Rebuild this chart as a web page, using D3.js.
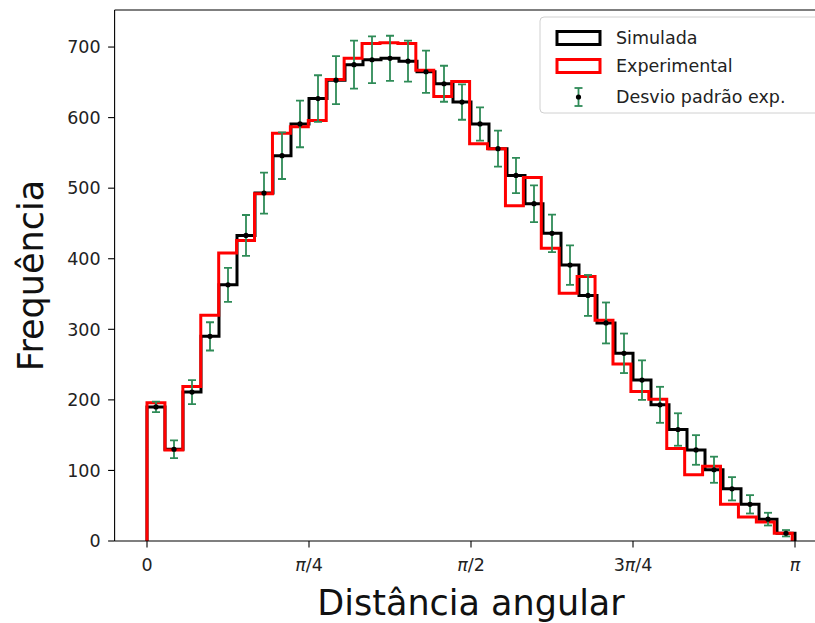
<!DOCTYPE html>
<html>
<head>
<meta charset="utf-8">
<script src="https://cdn.jsdelivr.net/npm/d3@7"></script>
<style>
  html, body { margin: 0; padding: 0; background: #fff; }
  svg { display: block; font-family: "DejaVu Sans", sans-serif; }
</style>
</head>
<body>
<svg id="chart" width="815" height="623"></svg>
<script>
// ---- data ----
const binCount = 36;
const simRange = [0, Math.PI];
const expRange = [0, 3.128];
const simValues = [190, 130, 211, 290, 363, 433, 493, 546, 591, 627, 653, 675, 682, 684, 680, 665, 648, 622, 591, 556, 518, 478, 436, 391, 348, 309, 266, 228, 193, 158, 129, 101, 74, 52, 31, 11];
const expValues = [196, 129, 219, 320, 408, 426, 492, 578, 587, 596, 654, 684, 705, 706, 705, 667, 630, 651, 563, 556, 475, 515, 415, 351, 375, 313, 251, 212, 201, 131, 94, 106, 52, 34, 27, 11];
const expErrors = [7.5, 12.5, 17, 20, 24, 29, 29, 33, 33, 33, 34, 34, 33, 32, 29, 30, 25.5, 25, 23.5, 25.5, 25, 26, 26.5, 28, 29, 29, 28, 28, 25.5, 23, 21, 18.5, 16.5, 13, 9, 4.5];
const yTicks = [0, 100, 200, 300, 400, 500, 600, 700];
const xTicks = [0, Math.PI / 4, Math.PI / 2, 3 * Math.PI / 4, Math.PI];
const xTickLabels = [["0"], ["", "π", "/4"], ["", "π", "/2"], ["3", "π", "/4"], ["", "π", ""]];
const legendLabels = ["Simulada", "Experimental", "Desvio padrão exp."];
const colSim = "#000000", colExp = "#ff0000", colErr = "#2e8b57";

// ---- layout ----
const svg = d3.select("#chart");
const pL = 114.6, pR = 827.4, pT = 10, pB = 541;
const x = d3.scaleLinear().domain([-0.05 * Math.PI, 1.05 * Math.PI]).range([pL, pR]);
const y = d3.scaleLinear().domain([0, 752.5]).range([pB, pT]);

function edges(range) {
  const w = (range[1] - range[0]) / binCount;
  return d3.range(binCount + 1).map(i => range[0] + i * w);
}
function stepPath(vals, range) {
  const e = edges(range);
  const pts = [[e[0], 0]];
  vals.forEach((v, i) => { pts.push([e[i], v]); pts.push([e[i + 1], v]); });
  pts.push([e[binCount], 0]);
  return d3.line().x(d => x(d[0])).y(d => y(d[1]))(pts);
}

svg.append("clipPath").attr("id", "clip").append("rect")
  .attr("x", pL).attr("y", pT).attr("width", pR - pL).attr("height", pB - pT);

const plot = svg.append("g").attr("clip-path", "url(#clip)");

plot.append("path").attr("d", stepPath(simValues, simRange))
  .attr("fill", "none").attr("stroke", colSim).attr("stroke-width", 3).attr("stroke-linejoin", "miter");
plot.append("path").attr("d", stepPath(expValues, expRange))
  .attr("fill", "none").attr("stroke", colExp).attr("stroke-width", 3).attr("stroke-linejoin", "miter");

// error bars at simulated bin centers
const se = edges(simRange);
const centers = simValues.map((v, i) => (se[i] + se[i + 1]) / 2);
const eb = plot.append("g");
simValues.forEach((v, i) => {
  const cx = x(centers[i]);
  const y1 = y(v - expErrors[i]), y2 = y(v + expErrors[i]);
  eb.append("line").attr("x1", cx).attr("x2", cx).attr("y1", y1).attr("y2", y2)
    .attr("stroke", colErr).attr("stroke-width", 1.8);
  [y1, y2].forEach(yy => eb.append("line").attr("x1", cx - 4).attr("x2", cx + 4).attr("y1", yy).attr("y2", yy)
    .attr("stroke", colErr).attr("stroke-width", 1.8));
  eb.append("circle").attr("cx", cx).attr("cy", y(v)).attr("r", 2.6).attr("fill", "#000");
});

// ---- axes ----
const axisG = svg.append("g");
axisG.append("line").attr("x1", pL).attr("x2", pL).attr("y1", pT).attr("y2", pB).attr("stroke", "#000").attr("stroke-width", 1.1);
axisG.append("line").attr("x1", pL).attr("x2", pR).attr("y1", pB).attr("y2", pB).attr("stroke", "#000").attr("stroke-width", 1.1);
axisG.append("line").attr("x1", pL).attr("x2", pR).attr("y1", pT).attr("y2", pT).attr("stroke", "#000").attr("stroke-width", 1.1);

const fsTick = 17.5;
yTicks.forEach(t => {
  axisG.append("line").attr("x1", pL - 6.5).attr("x2", pL).attr("y1", y(t)).attr("y2", y(t)).attr("stroke", "#000").attr("stroke-width", 1.1);
  axisG.append("text").attr("x", pL - 14).attr("y", y(t)).attr("dy", "0.36em")
    .attr("text-anchor", "end").attr("font-size", fsTick).attr("fill", "#222").text(t);
});
xTicks.forEach((t, i) => {
  axisG.append("line").attr("x1", x(t)).attr("x2", x(t)).attr("y1", pB).attr("y2", pB + 6.5).attr("stroke", "#000").attr("stroke-width", 1.1);
  const tx = axisG.append("text").attr("x", x(t)).attr("y", pB + 13).attr("dy", "0.95em")
    .attr("text-anchor", "middle").attr("font-size", fsTick).attr("fill", "#222");
  const parts = xTickLabels[i];
  tx.append("tspan").text(parts[0]);
  if (parts[1]) tx.append("tspan").attr("font-style", "italic").text(parts[1]);
  if (parts[2]) tx.append("tspan").text(parts[2]);
});

svg.append("text").attr("x", (pL + pR) / 2).attr("y", 615).attr("text-anchor", "middle")
  .attr("font-size", 35).attr("fill", "#111").text("Distância angular");
svg.append("text").attr("transform", `translate(43,${(pT + pB) / 2}) rotate(-90)`).attr("text-anchor", "middle")
  .attr("font-size", 35).attr("fill", "#111").text("Frequência");

// ---- legend ----
const lg = svg.append("g");
lg.append("rect").attr("x", 540).attr("y", 17).attr("width", 300).attr("height", 96).attr("rx", 4)
  .attr("fill", "#fff").attr("fill-opacity", 0.8).attr("stroke", "#d0d0d0").attr("stroke-width", 1);
const rowsY = [38, 66, 97];
lg.append("rect").attr("x", 557).attr("y", rowsY[0] - 6.5).attr("width", 43).attr("height", 13)
  .attr("fill", "none").attr("stroke", colSim).attr("stroke-width", 3);
lg.append("rect").attr("x", 557).attr("y", rowsY[1] - 6.5).attr("width", 43).attr("height", 13)
  .attr("fill", "none").attr("stroke", colExp).attr("stroke-width", 3);
const lx = 578.5;
lg.append("line").attr("x1", lx).attr("x2", lx).attr("y1", rowsY[2] - 9).attr("y2", rowsY[2] + 9).attr("stroke", colErr).attr("stroke-width", 1.8);
[rowsY[2] - 9, rowsY[2] + 9].forEach(yy => lg.append("line").attr("x1", lx - 4).attr("x2", lx + 4).attr("y1", yy).attr("y2", yy).attr("stroke", colErr).attr("stroke-width", 1.8));
lg.append("circle").attr("cx", lx).attr("cy", rowsY[2]).attr("r", 2.6).attr("fill", "#000");
legendLabels.forEach((l, i) => {
  lg.append("text").attr("x", 616).attr("y", rowsY[i]).attr("dy", "0.36em").attr("font-size", 17.5).attr("fill", "#222").text(l);
});
</script>
</body>
</html>
